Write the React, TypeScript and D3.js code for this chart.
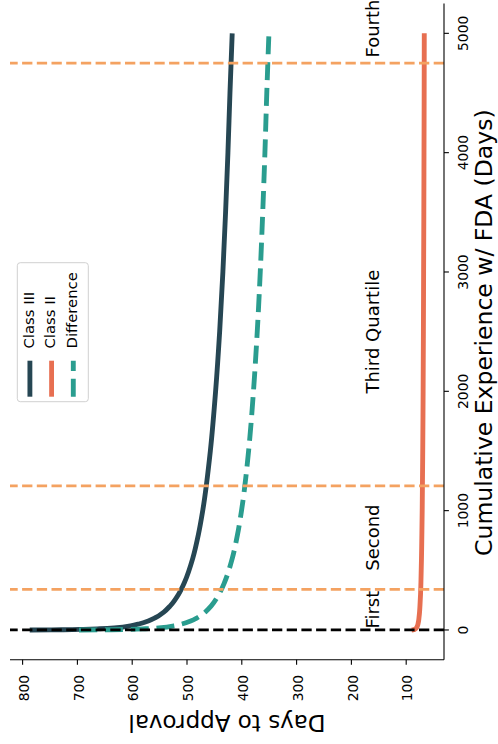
import React from "react";
import * as d3 from "d3";

// Cumulative experience with the FDA (days) at which the learning curves are sampled
const experience = [0, 1, 2, 5, 10, 20, 35, 50, 75, 100, 150, 200, 300, 400, 600, 800, 1000, 1500, 2000, 2500, 3000, 3500, 4000, 4500, 5000];
// Days to approval
const classIII = [787, 747.6, 725.4, 689.0, 658.7, 627.9, 603.2, 587.9, 570.7, 558.8, 542.3, 531.0, 515.3, 504.5, 489.5, 479.2, 471.3, 457.4, 447.8, 440.4, 434.5, 429.6, 425.3, 421.6, 417.5];
const classII = [90, 87.9, 86.6, 84.6, 82.8, 81.0, 79.5, 78.5, 77.4, 76.7, 75.6, 74.9, 73.8, 73.1, 72.1, 71.4, 70.8, 69.8, 69.1, 68.6, 68.2, 67.8, 67.5, 67.2, 67.0];
const difference = [697, 659.7, 638.8, 604.4, 575.9, 546.9, 523.7, 509.4, 493.3, 482.1, 466.7, 456.1, 441.5, 431.4, 417.4, 407.8, 400.5, 387.6, 378.7, 371.8, 366.3, 361.8, 357.8, 354.4, 350.5];

// Quartile boundaries of experience and their labels
const quartileBounds = [341, 1207, 4750];
const quartileLabels = ["First", "Second", "Third Quartile", "Fourth"];
const quartileLabelPos = [170, 774, 2500, 5040];

const expTicks = [0, 1000, 2000, 3000, 4000, 5000];
const dayTicks = [800, 700, 600, 500, 400, 300, 200, 100];

const seriesNames = ["Class III", "Class II", "Difference"];
const seriesColors = ["#264653", "#e76f51", "#2a9d8f"];

const W = 498;
const H = 744;
const FONT = "DejaVu Sans, sans-serif";

export default function App() {
  const left = 10, right = 444, top = 3.5, bottom = 659.8;

  const allDays = [...classIII, ...classII, ...difference];
  const dMin = d3.min(allDays)!;
  const dMax = d3.max(allDays)!;
  const dPad = (dMax - dMin) * 0.05;
  // days axis runs right-to-left (high values on the left)
  const x = d3.scaleLinear().domain([dMax + dPad, dMin - dPad]).range([left, right]);

  const eMin = d3.min(experience)!;
  const eMax = d3.max(experience)!;
  const ePad = (eMax - eMin) * 0.05;
  const y = d3.scaleLinear().domain([eMin - ePad, eMax + ePad]).range([bottom, top]);

  const lineGen = (vals: number[]) =>
    d3
      .line<number>()
      .x((v) => x(v))
      .y((_, i) => y(experience[i]))
      .curve(d3.curveMonotoneY)(vals) as string;

  const series = [classIII, classII, difference];
  const lw = 4.86;
  const dash = "18,7.8";
  const vDash = "10.3,4.4";

  const legendX0 = 17.3, legendY0 = 262.7, legendW = 71, legendH = 139;
  const legendBase = [33.5, 55.2, 76.9];

  return (
    <svg
      width={W}
      height={H}
      style={{ position: "absolute", left: 0, top: 0, background: "#fff" }}
      fontFamily={FONT}
    >
      <rect x={0} y={0} width={W} height={H} fill="#fff" />

      {/* data lines */}
      {series.map((vals, i) => (
        <path
          key={seriesNames[i]}
          d={lineGen(vals)}
          fill="none"
          stroke={seriesColors[i]}
          strokeWidth={lw}
          strokeDasharray={i === 2 ? dash : undefined}
        />
      ))}

      {/* zero-experience reference */}
      <line x1={right} x2={left} y1={y(0)} y2={y(0)} stroke="#000" strokeWidth={2.78} strokeDasharray={vDash} />
      {/* quartile boundaries */}
      {quartileBounds.map((q) => (
        <line key={q} x1={right} x2={left} y1={y(q)} y2={y(q)} stroke="#f4a261" strokeWidth={2.78} strokeDasharray={vDash} />
      ))}

      {/* quartile labels */}
      {quartileLabels.map((t, i) => (
        <text
          key={t}
          transform={`translate(${x(150)},${y(quartileLabelPos[i])}) rotate(-90)`}
          textAnchor="middle"
          fontSize={18}
          fill="#000"
        >
          {t}
        </text>
      ))}

      {/* spines */}
      <line x1={right} x2={right} y1={top} y2={bottom} stroke="#000" strokeWidth={1.1} />
      <line x1={left} x2={right} y1={bottom} y2={bottom} stroke="#000" strokeWidth={1.1} />

      {/* experience axis ticks */}
      {expTicks.map((t) => (
        <g key={t}>
          <line x1={right} x2={right + 4.9} y1={y(t)} y2={y(t)} stroke="#000" strokeWidth={1.1} />
          <text transform={`translate(${right + 24},${y(t)}) rotate(-90)`} textAnchor="middle" fontSize={13.9}>
            {t}
          </text>
        </g>
      ))}
      {/* days axis ticks */}
      {dayTicks.map((t) => (
        <g key={t}>
          <line x1={x(t)} x2={x(t)} y1={bottom} y2={bottom + 4.9} stroke="#000" strokeWidth={1.1} />
          <text transform={`translate(${x(t) + 6.3},${bottom + 15}) rotate(-90)`} textAnchor="end" fontSize={13.9}>
            {t}
          </text>
        </g>
      ))}

      {/* axis titles */}
      <text transform={`translate(492,${(top + bottom) / 2 + 1}) rotate(-90)`} textAnchor="middle" fontSize={23.5}>
        Cumulative Experience w/ FDA (Days)
      </text>
      <text transform={`translate(${(left + right) / 2},715) rotate(180)`} textAnchor="middle" fontSize={23}>
        Days to Approval
      </text>

      {/* legend */}
      <rect
        x={legendX0}
        y={legendY0}
        width={legendW}
        height={legendH}
        rx={3}
        fill="#fff"
        fillOpacity={0.8}
        stroke="#d0d0d0"
        strokeWidth={1}
      />
      {seriesNames.map((n, i) => (
        <g key={n}>
          <line
            x1={legendBase[i] - 3.6}
            x2={legendBase[i] - 3.6}
            y1={396.7}
            y2={360.7}
            stroke={seriesColors[i]}
            strokeWidth={lw}
            strokeDasharray={i === 2 ? dash : undefined}
          />
          <text transform={`translate(${legendBase[i]},348.5) rotate(-90)`} textAnchor="start" fontSize={14.8}>
            {n}
          </text>
        </g>
      ))}
    </svg>
  );
}
